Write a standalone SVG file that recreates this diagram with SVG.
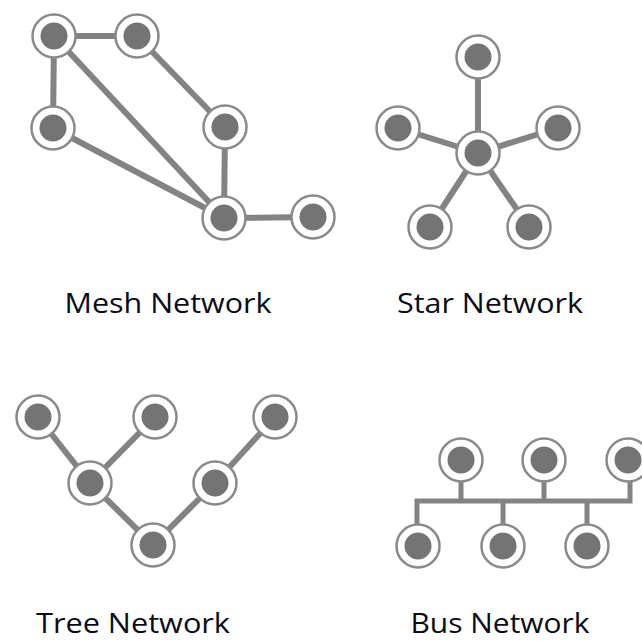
<svg xmlns="http://www.w3.org/2000/svg" width="642" height="641" viewBox="0 0 642 641">
<defs>
<style>
.edge{stroke:#838383;stroke-width:6;fill:none;stroke-linecap:butt}
.bus{stroke:#838383;stroke-width:5;fill:none}
.ring{fill:#fff;stroke:#8a8a8a;stroke-width:2.5}
.core{fill:#747474}
.lbl{font-family:"Open Sans","Noto Sans","Liberation Sans",sans-serif;font-size:28px;font-weight:500;fill:#0a0a14}
</style>
<g id="nd"><circle class="ring" r="21.5"/><circle class="core" r="13.5"/></g>
</defs>
<rect width="642" height="641" fill="#fff"/>
<g id="connectors">
<line class="edge" x1="54" y1="36" x2="137" y2="36"/>
<line class="edge" x1="54" y1="36" x2="53" y2="128"/>
<line class="edge" x1="54" y1="36" x2="224" y2="218"/>
<line class="edge" x1="137" y1="36" x2="225" y2="127"/>
<line class="edge" x1="225" y1="127" x2="224" y2="218"/>
<line class="edge" x1="53" y1="128" x2="224" y2="218"/>
<line class="edge" x1="224" y1="218" x2="313" y2="217"/>
<line class="edge" x1="478" y1="57" x2="478" y2="153"/>
<line class="edge" x1="398" y1="128" x2="478" y2="153"/>
<line class="edge" x1="558" y1="128" x2="478" y2="153"/>
<line class="edge" x1="430" y1="227" x2="478" y2="153"/>
<line class="edge" x1="529" y1="227" x2="478" y2="153"/>
<line class="edge" x1="38" y1="417" x2="90" y2="483"/>
<line class="edge" x1="155" y1="417" x2="90" y2="483"/>
<line class="edge" x1="90" y1="483" x2="153" y2="545"/>
<line class="edge" x1="215" y1="483" x2="153" y2="545"/>
<line class="edge" x1="275" y1="417" x2="215" y2="483"/>
<path class="bus" d="M417 546 V501 H630 V460 M461 460 V501 M544 460 V501 M503 501 V546 M587 501 V546"/>
</g>
<g id="mesh-network">
<use href="#nd" x="54" y="36"/>
<use href="#nd" x="137" y="36"/>
<use href="#nd" x="53" y="128"/>
<use href="#nd" x="225" y="127"/>
<use href="#nd" x="224" y="218"/>
<use href="#nd" x="313" y="217"/>
<text class="lbl" x="168" y="313" text-anchor="middle" textLength="207" lengthAdjust="spacingAndGlyphs">Mesh Network</text>
</g>
<g id="star-network">
<use href="#nd" x="478" y="57"/>
<use href="#nd" x="398" y="128"/>
<use href="#nd" x="558" y="128"/>
<use href="#nd" x="478" y="153"/>
<use href="#nd" x="430" y="227"/>
<use href="#nd" x="529" y="227"/>
<text class="lbl" x="490" y="313" text-anchor="middle" textLength="186" lengthAdjust="spacingAndGlyphs">Star Network</text>
</g>
<g id="tree-network">
<use href="#nd" x="38" y="417"/>
<use href="#nd" x="155" y="417"/>
<use href="#nd" x="275" y="417"/>
<use href="#nd" x="90" y="483"/>
<use href="#nd" x="215" y="483"/>
<use href="#nd" x="153" y="545"/>
<text class="lbl" x="133" y="633" text-anchor="middle" textLength="194" lengthAdjust="spacingAndGlyphs">Tree Network</text>
</g>
<g id="bus-network">
<use href="#nd" x="461" y="460"/>
<use href="#nd" x="544" y="460"/>
<use href="#nd" x="628" y="460"/>
<use href="#nd" x="418" y="546"/>
<use href="#nd" x="503" y="546"/>
<use href="#nd" x="587" y="546"/>
<text class="lbl" x="500" y="633" text-anchor="middle" textLength="179" lengthAdjust="spacingAndGlyphs">Bus Network</text>
</g>
</svg>
